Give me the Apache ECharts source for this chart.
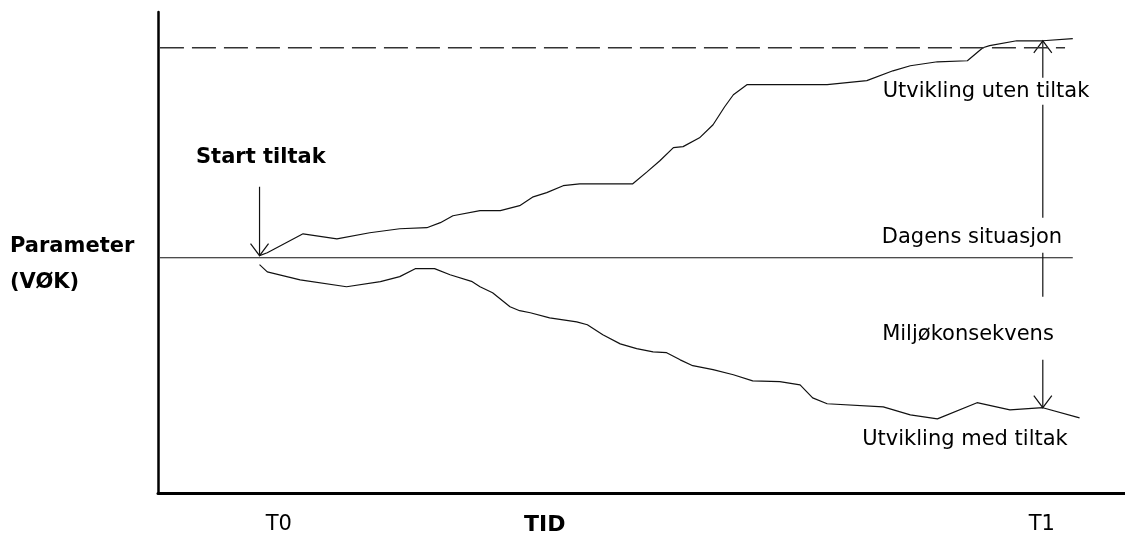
<!DOCTYPE html>
<html>
<head>
<meta charset="utf-8">
<script src="https://cdn.jsdelivr.net/npm/echarts@6/dist/echarts.min.js"></script>
<style>
  html, body { margin: 0; padding: 0; background: #fff; }
  #chart { width: 1125px; height: 540px; }
</style>
</head>
<body>
<div id="chart"></div>
<script>
// tid (0-100) og parameter (0 = dagens situasjon)
const utenX = [10.5, 11.3, 15.0, 18.5, 21.9, 25.0, 27.8, 29.2, 30.5, 33.3, 35.4, 37.4, 38.8, 40.2, 41.9, 43.6, 49.1, 50.6, 51.9, 53.3, 54.3, 56.0, 57.4, 58.6, 59.5, 60.9, 69.2, 73.3, 76.0, 77.8, 80.6, 83.7, 85.3, 86.0, 88.8, 91.5, 94.6]
const utenY = [0.1, 0.24, 1.14, 0.9, 1.19, 1.38, 1.43, 1.67, 2.0, 2.24, 2.24, 2.48, 2.9, 3.1, 3.43, 3.52, 3.52, 4.1, 4.62, 5.24, 5.29, 5.71, 6.33, 7.19, 7.76, 8.24, 8.24, 8.43, 8.9, 9.14, 9.33, 9.38, 10.0, 10.1, 10.33, 10.33, 10.43]
const medX = [10.5, 11.3, 14.7, 19.5, 23.0, 25.0, 26.6, 28.6, 30.2, 32.5, 33.3, 34.6, 36.4, 37.4, 38.5, 40.5, 43.3, 44.4, 46.0, 47.8, 49.5, 51.2, 52.6, 54.0, 55.3, 57.4, 59.5, 61.5, 64.3, 66.4, 67.7, 69.2, 75.0, 77.8, 80.6, 84.7, 88.1, 91.5, 95.3]
const medY = [-0.33, -0.67, -1.05, -1.38, -1.14, -0.9, -0.52, -0.52, -0.81, -1.14, -1.38, -1.67, -2.33, -2.52, -2.62, -2.86, -3.05, -3.19, -3.67, -4.1, -4.33, -4.48, -4.52, -4.86, -5.14, -5.33, -5.57, -5.86, -5.9, -6.05, -6.67, -6.95, -7.1, -7.48, -7.67, -6.9, -7.24, -7.14, -7.62]
const dagensX = [0.2, 94.6]
const dagensNivaa = 0
const grenseX = [0.2, 93.8]
const grenseNivaa = 10
// piler: x, fra, til, pilspiss (1 = ja)
const pilX = [10.5, 91.5, 91.5, 91.5, 91.5]
const pilFra = [3.38, 8.57, 7.29, 0.24, -4.86]
const pilTil = [0.1, 10.33, 1.9, -1.86, -7.14]
const pilSpiss = [1, 1, 0, 0, 1]
const tidVerdier = [12.5, 40, 91.4]
const tidTekster = ['T0', 'TID', 'T1']

const chart = echarts.init(document.getElementById('chart'))
const fontNavn = 'DejaVu Sans'

function tekst (t, x, y, fet, align) {
  return {
    type: 'text',
    x: x,
    y: y,
    style: {
      text: t,
      fill: '#000',
      font: (fet ? 'bold ' : '') + '21px "' + fontNavn + '"',
      align: align || 'left',
      verticalAlign: 'middle'
    }
  }
}

const linjeStil = { color: '#111', width: 1.2 }

const option = {
  animation: false,
  backgroundColor: '#fff',
  grid: { left: 158, right: 0, top: 12, bottom: 47 },
  xAxis: {
    type: 'value',
    min: 0,
    max: 100,
    axisLine: { onZero: false, lineStyle: { color: '#000', width: 3 } },
    axisTick: { show: false },
    splitLine: { show: false },
    axisLabel: {
      customValues: tidVerdier,
      margin: 21,
      color: '#000',
      fontFamily: fontNavn,
      fontSize: 21,
      formatter: function (v) {
        const i = tidVerdier.indexOf(v)
        const t = i >= 0 ? tidTekster[i] : ''
        return t === 'TID' ? '{b|' + t + '}' : t
      },
      rich: { b: { fontWeight: 'bold', fontSize: 22, fontFamily: fontNavn, color: '#000' } }
    }
  },
  yAxis: {
    type: 'value',
    min: -11.2,
    max: 11.7,
    axisLine: { show: true, onZero: false, lineStyle: { color: '#000', width: 2.5 } },
    axisTick: { show: false },
    axisLabel: { show: false },
    splitLine: { show: false }
  },
  graphic: [
    tekst('Parameter', 10, 247, true),
    tekst('(VØK)', 10, 283, true),
    tekst('Start tiltak', 196, 158, true),
    tekst('Utvikling uten tiltak', 986, 92, false, 'center'),
    tekst('Dagens situasjon', 972, 238, false, 'center'),
    tekst('Miljøkonsekvens', 968, 335, false, 'center'),
    tekst('Utvikling med tiltak', 965, 440, false, 'center')
  ],
  series: [
    {
      type: 'line',
      symbol: 'none',
      lineStyle: linjeStil,
      data: utenX.map((x, i) => [x, utenY[i]])
    },
    {
      type: 'line',
      symbol: 'none',
      lineStyle: linjeStil,
      data: medX.map((x, i) => [x, medY[i]])
    },
    {
      type: 'line',
      symbol: 'none',
      lineStyle: linjeStil,
      data: dagensX.map(x => [x, dagensNivaa])
    },
    {
      type: 'line',
      symbol: 'none',
      lineStyle: { color: '#333', width: 1.5, type: [24, 8] },
      data: grenseX.map(x => [x, grenseNivaa])
    },
    {
      type: 'custom',
      data: pilX.map((x, i) => [x, pilFra[i], pilTil[i], pilSpiss[i]]),
      encode: { x: 0, y: [1, 2] },
      renderItem: function (params, api) {
        const x = api.value(0)
        const p1 = api.coord([x, api.value(1)])
        const p2 = api.coord([x, api.value(2)])
        const barn = [{
          type: 'line',
          shape: { x1: p1[0], y1: p1[1], x2: p2[0], y2: p2[1] },
          style: { stroke: '#111', lineWidth: 1.2 }
        }]
        if (api.value(3)) {
          const dir = p2[1] > p1[1] ? -1 : 1
          barn.push({
            type: 'polyline',
            shape: { points: [[p2[0] - 9, p2[1] + dir * 12], [p2[0], p2[1]], [p2[0] + 9, p2[1] + dir * 12]] },
            style: { stroke: '#111', fill: null, lineWidth: 1.2 }
          })
        }
        return { type: 'group', children: barn }
      }
    }
  ]
}
chart.setOption(option)
</script>
</body>
</html>
